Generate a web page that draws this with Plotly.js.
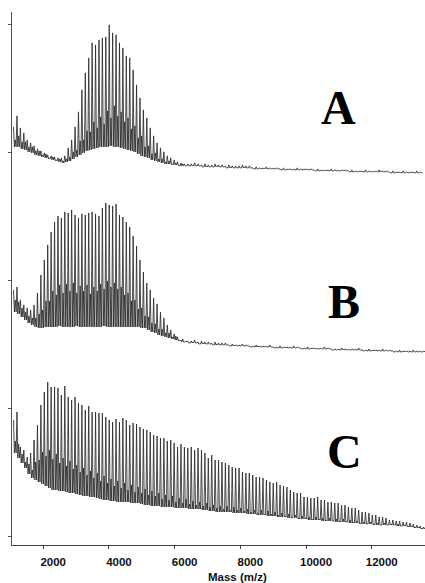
<!DOCTYPE html>
<html>
<head>
<meta charset="utf-8">
<script src="https://cdn.plot.ly/plotly-3.0.1.min.js"></script>
<style>html,body{margin:0;padding:0;background:#fff;}#chart{width:425px;height:583px;}</style>
</head>
<body>
<div id="chart"></div>
<script>
// Peak series (m/z) of the oligomer ladder
const peakMass = [1097,1201,1305,1409,1513,1617,1721,1825,1929,2033,
2137,2241,2345,2449,2553,2657,2761,2865,2969,3073,
3177,3281,3385,3489,3593,3697,3801,3905,4009,4113,
4217,4321,4425,4529,4633,4737,4841,4945,5049,5153,
5257,5361,5465,5569,5673,5777,5881,5985,6089,6193,
6297,6401,6505,6609,6713,6817,6921,7025,7129,7233,
7337,7441,7545,7649,7753,7857,7961,8065,8169,8273,
8377,8481,8585,8689,8793,8897,9001,9105,9209,9313,
9417,9521,9625,9729,9833,9937,10041,10145,10249,10353,
10457,10561,10665,10769,10873,10977,11081,11185,11289,11393,
11497,11601,11705,11809,11913,12017,12121,12225,12329,12433,
12537,12641,12745,12849,12953,13057,13161,13265,13369,13473,13577];

// Spectrum A (intensity, arbitrary units)
const topA = [51,62,50,45,38,35,32,29,27,25, 23,22,21,20,20,22,30,38,51,66,
88,105,120,135,133,138,140,141,153,145, 143,135,130,122,120,108,93,80,68,60,
50,42,35,30,26,22,20,18,16,15, 14,
14,14,15,14, 13,14,13,13,14,13,13, 12,13,12,12,12,13,12,12, 10,11,10,10,11,10,10,10,
9,10,9,9,9,10,9,9,9,9, 8,9,8,8,8,9,8,8,8,8, 7,8,7,7,7,8,7,7,7,8,7,7, 6,7,6,6,7,6,6,6,7,6];
const midA = [38,42,36,36,31,31,27,27,23,24, 20,21,18,19,17,19,21,26,28,37,
38,47,46,56,50,61,54,67,60,72, 62,66,56,60,49,52,40,42,31,32,
24,25,19,19,16,17,14,15,13,14, 12,
12,13,12,12, 11,12,11,11,12,11,11, 10,11,10,10,10,11,10,10, 9,9,9,10,9,9,9,9,
8,8,9,8,8,8,8,9,8,8, 7,7,7,8,7,7,7,7,8,7, 6,6,6,7,6,6,6,6,6,7,6,6, 5,5,6,5,5,5,6,5,5,5];
const baseA = [31,31,29,28,26,25,23,22,21,20, 19,18,17,16,15,16,17,19,21,23,
25,27,28,29,30,31,31,31,32,31, 31,30,29,28,27,26,24,22,21,20,
18,17,16,15,14,14,13,13,12,12, 12,
12,12,12,12, 11,11,11,11,11,11,11, 10,10,10,10,10,10,10,10, 9,9,9,9,9,9,9,9,
8,8,8,8,8,8,8,8,8,8, 7,7,7,7,7,7,7,7,7,7, 6,6,6,6,6,6,6,6,6,6,6,6, 5,5,5,5,5,5,5,5,5,5];

// Spectrum B
const topB = [67,70,57,52,49,47,52,64,82,97, 112,125,135,141,139,145,144,147,142,139,
143,142,144,145,143,141,149,154,152,151, 153,142,140,135,130,121,111,97,85,74,
67,59,53,45,39,32,27,23,20,17, 15,
16,16,17, 15,16,15,15, 14,15,14,14,14, 12,13,12,12,13,12, 11,11,12,11,11,11,12,
10,10,11,10,10,10,11,10, 9,9,10,9,9,9,9,10,9, 8,8,8,9,8,8,8,8,9, 7,7,8,7,7,7,8,7,7, 6,6,7,6,6,6,7,6,6,6];
const midB = [57,55,49,45,41,39,39,43,47,56, 56,66,62,72,64,73,66,74,64,71,
66,72,63,70,66,73,68,76,70,74, 68,70,62,64,56,57,48,49,41,40,
34,33,28,28,24,24,20,21,17,18, 16,
14,15,14, 13,14,13,13, 12,13,12,12,12, 11,12,11,11,11,11, 10,10,11,10,10,10,10,
9,9,9,10,9,9,9,9, 8,8,8,9,8,8,8,8,8, 7,7,7,8,7,7,7,7,7, 6,6,6,7,6,6,6,6,6, 5,5,5,6,5,5,5,5,5,5];
const baseB = [45,43,40,37,34,32,30,29,29,30, 30,30,30,31,30,30,30,30,31,30,
30,30,30,30,30,30,31,30,30,30, 30,30,30,30,30,30,30,29,29,27,
25,24,22,21,20,19,18,17,16,15, 15,
14,14,14, 13,13,13,13, 12,12,12,12,12, 11,11,11,11,11,11, 10,10,10,10,10,10,10,
9,9,9,9,9,9,9,9, 8,8,8,8,8,8,8,8,8, 7,7,7,7,7,7,7,7,7, 6,6,6,6,6,6,6,6,6, 5,5,5,5,5,5,5,5,5,5];

// Spectrum C
const topC = [116,124,89,86,79,83,96,111,131,144, 154,149,149,148,141,150,139,136,139,133,
131,126,130,124,124,123,123,119,116,114, 117,114,118,116,111,113,112,109,107,106,
104,101,100,98,98,95,96,93,89,92, 89,88,89,86,88,86,83,78,81,76,
76,74,73,71,69,68,68,64,63,63, 61,59,59,58,56,54,53,54,51,50,
49,46,44,43,43,39,39,38,38,39, 36,36,34,34,33,33,31,31,29,28,
28,26,24,24,23,21,21,19,19,18, 16,16,15,15,14,14,13,12,11,10,9];
const midC = [95,92,82,74,72,66,74,76,84,80, 86,77,82,73,78,70,75,67,71,64,
68,61,65,58,63,55,60,53,57,50, 55,48,53,46,51,44,49,43,47,41,
45,40,43,37,41,36,40,34,38,33, 37,32,35,31,34,30,33,29,31,28,
30,27,30,26,29,26,28,25,27,24, 26,23,26,22,25,22,24,21,23,20,
22,19,21,18,20,18,19,17,19,17, 18,16,18,15,17,15,17,14,16,14,
15,13,14,12,14,12,13,11,13,11, 12,11,12,10,11,10,10,9,9,8,8];
const baseC = [83,78,73,68,62,58,56,54,52,50, 48,46,46,45,45,44,43,43,42,41,
40,40,39,39,38,37,36,36,35,35, 34,34,34,34,33,33,33,32,31,31,
30,30,30,29,29,29,29,28,28,28, 28,27,27,27,27,26,26,25,25,24,
24,24,24,24,23,23,23,23,22,22, 22,21,21,21,20,20,20,19,19,19,
18,18,18,17,17,17,16,16,16,16, 15,15,15,15,14,14,14,14,13,13,
13,12,12,12,12,11,11,11,11,11, 11,11,10,10,10,9,9,8,8,7,7];

const labels = ['A','B','C'];
const offsets = [2.8, 1.4, 0];   // vertical stacking of the three spectra (axis units)
const SCALE = 127.9;             // intensity units per y tick

function build(top, mid, base, off) {
  const xs = [], ys = [];
  for (let i = 0; i < peakMass.length; i++) {
    const m = peakMass[i];
    const step = (i < peakMass.length - 1) ? peakMass[i+1] - m : m - peakMass[i-1];
    xs.push(m, m + 0.25*step, m + 0.5*step, m + 0.75*step);
    ys.push(off + top[i]/SCALE, off + base[i]/SCALE, off + mid[i]/SCALE, off + base[i]/SCALE);
  }
  return {x: xs, y: ys, type: 'scatter', mode: 'lines',
          line: {color: '#2a2a2a', width: 0.85}, hoverinfo: 'skip', showlegend: false};
}

const data = [
  build(topA, midA, baseA, offsets[0]),
  build(topB, midB, baseB, offsets[1]),
  build(topC, midC, baseC, offsets[2])
];

const letterFont = {family: 'Liberation Serif, Times New Roman, serif', size: 48, color: '#000', weight: 'bold'};
const letterPos = [[11000, 3.35], [11150, 1.83], [11180, 0.66]];
const annotations = labels.map((t, i) => ({
  x: letterPos[i][0], y: letterPos[i][1], xref: 'x', yref: 'y', text: '<b>' + t + '</b>',
  showarrow: false, font: letterFont, xanchor: 'center', yanchor: 'middle'
}));
annotations.push({
  x: 0.547, y: 0, xref: 'paper', yref: 'paper', yshift: -24, yanchor: 'top',
  text: '<b>Mass (m/z)</b>', showarrow: false,
  font: {family: 'Liberation Sans, Arial, sans-serif', size: 11.5, color: '#111'}
});

const layout = {
  width: 425, height: 583,
  margin: {l: 12, r: 0, t: 12, b: 38},
  paper_bgcolor: '#fff', plot_bgcolor: '#fff',
  showlegend: false,
  xaxis: {
    range: [1050, 13620], tickvals: [2000, 4000, 6000, 8000, 10000, 12000],
    ticktext: ['2000','4000','6000','8000','10000','12000'],
    ticks: 'outside', ticklen: 3, tickwidth: 1, tickcolor: '#444',
    showline: true, linecolor: '#444', linewidth: 1, showgrid: false, zeroline: false,
    ticklabelshift: 10, ticklabelstandoff: 3,
    tickfont: {family: 'Liberation Sans, Arial, sans-serif', size: 11.5, color: '#111', weight: 'bold'}
  },
  yaxis: {
    range: [-0.0704, 4.097], tickvals: [0, 1, 2, 3, 4], showticklabels: false,
    ticks: 'outside', ticklen: 3, tickwidth: 1, tickcolor: '#555',
    showline: true, linecolor: '#555', linewidth: 1, showgrid: false, zeroline: false
  },
  annotations: annotations
};

Plotly.newPlot('chart', data, layout, {staticPlot: true, displayModeBar: false});
</script>
</body>
</html>
